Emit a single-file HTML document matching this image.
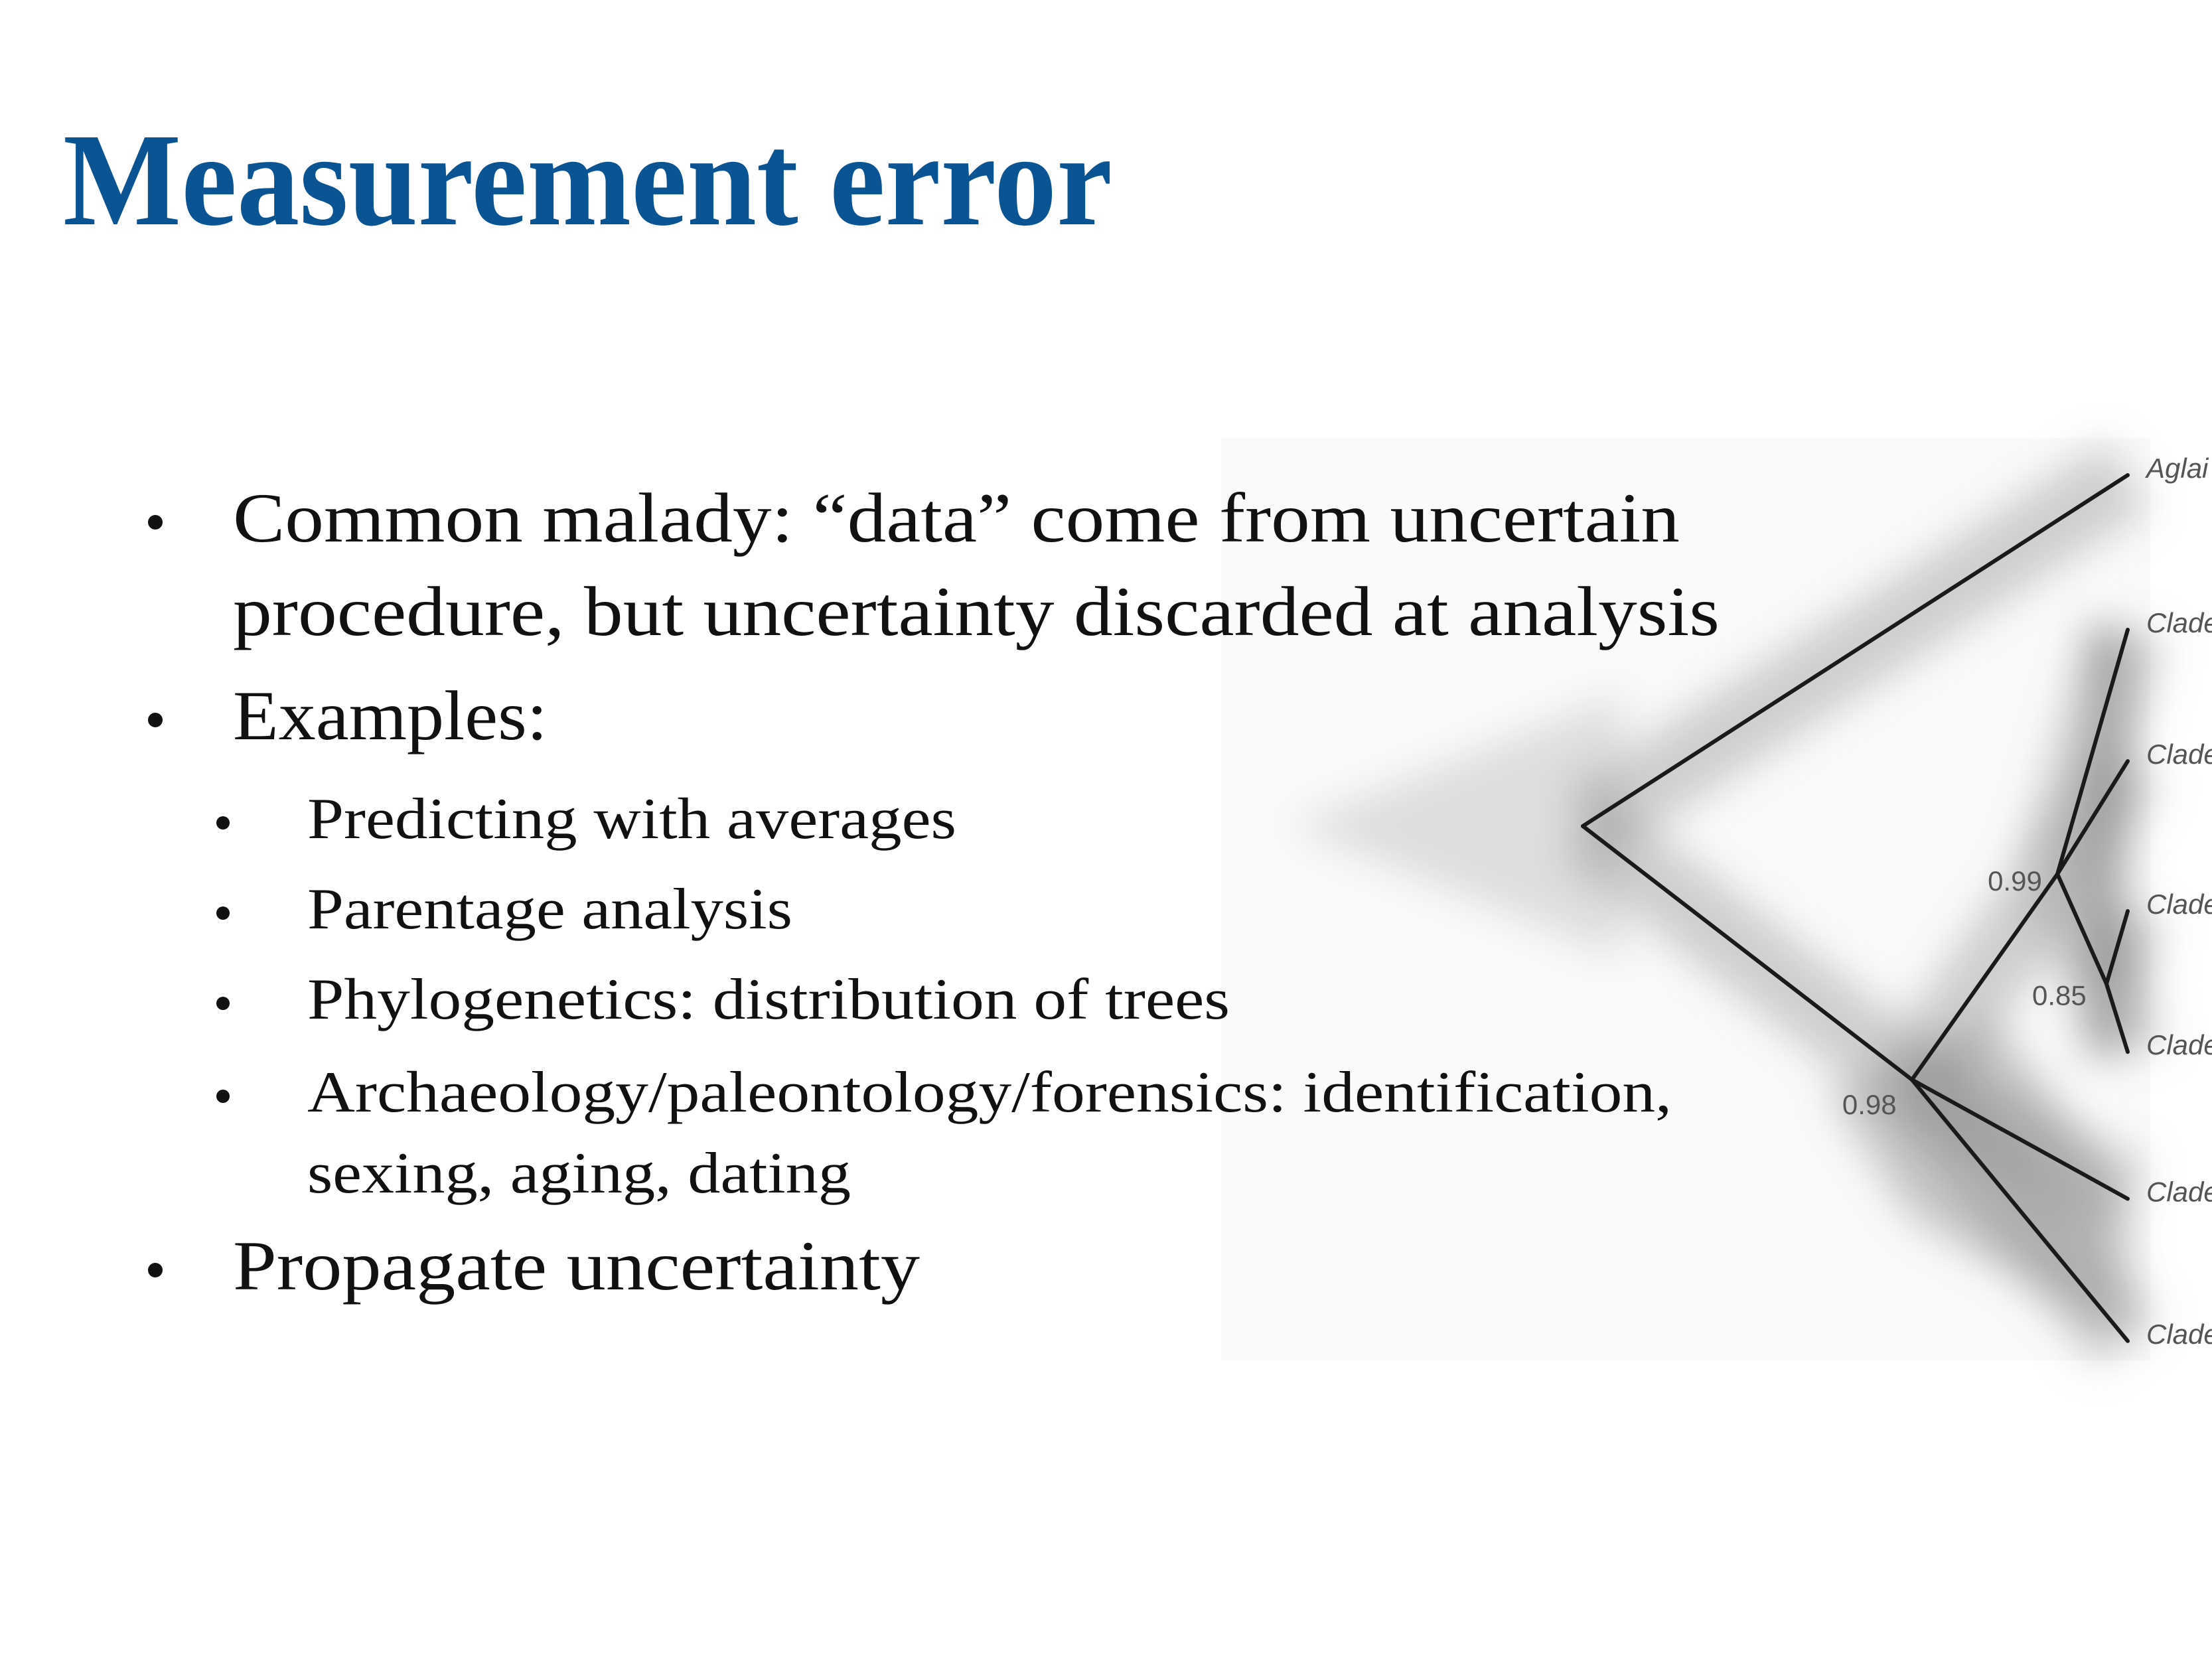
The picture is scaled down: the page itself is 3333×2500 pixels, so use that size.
<!DOCTYPE html>
<html><head><meta charset="utf-8"><style>
html,body{margin:0;padding:0;background:#fff;}
svg{display:block;}
</style></head><body>
<svg width="3333" height="2500" viewBox="0 0 3333 2500" xmlns="http://www.w3.org/2000/svg">
<defs>
<filter id="blur" x="-30%" y="-30%" width="160%" height="160%"><feGaussianBlur stdDeviation="30"/></filter>
</defs>
<g id="tree"></g>
<text x="95" y="338" font-family="Liberation Serif, serif" font-weight="bold" font-size="200" fill="#0a5494" textLength="1581" lengthAdjust="spacingAndGlyphs">Measurement error</text>
<g font-family="Liberation Serif, serif" fill="#111">
<circle cx="234" cy="787" r="11"/>
<text x="351" y="816" font-size="106" textLength="2180" lengthAdjust="spacingAndGlyphs">Common malady: “data” come from uncertain</text>
<text x="351" y="957" font-size="106" textLength="2240" lengthAdjust="spacingAndGlyphs">procedure, but uncertainty discarded at analysis</text>
<circle cx="234" cy="1085" r="11"/>
<text x="351" y="1114" font-size="106" textLength="474" lengthAdjust="spacingAndGlyphs">Examples:</text>
<circle cx="336" cy="1240" r="10"/>
<text x="463" y="1263" font-size="88" textLength="978" lengthAdjust="spacingAndGlyphs">Predicting with averages</text>
<circle cx="336" cy="1376" r="10"/>
<text x="463" y="1399" font-size="88" textLength="731" lengthAdjust="spacingAndGlyphs">Parentage analysis</text>
<circle cx="336" cy="1512" r="10"/>
<text x="463" y="1535" font-size="88" textLength="1390" lengthAdjust="spacingAndGlyphs">Phylogenetics: distribution of trees</text>
<circle cx="336" cy="1652" r="10"/>
<text x="463" y="1675" font-size="88" textLength="2056" lengthAdjust="spacingAndGlyphs">Archaeology/paleontology/forensics: identification,</text>
<text x="463" y="1797" font-size="88" textLength="819" lengthAdjust="spacingAndGlyphs">sexing, aging, dating</text>
<circle cx="234" cy="1914" r="11"/>
<text x="351" y="1943" font-size="106" textLength="1035" lengthAdjust="spacingAndGlyphs">Propagate uncertainty</text>
</g>
</svg>
<script>
const tipNames = ["Aglai", "Clade", "Clade", "Clade", "Clade", "Clade", "Clade"];
const tipPos = [0, 1.0, 1.85, 2.82, 3.73, 4.68, 5.6];
const nodeNames = ["root", "n098", "n099", "n085"];
const nodeDepth = [0, 0.604, 0.871, 0.961];
const nodePos = [2.27, 3.91, 2.58, 3.29];
const nodeSupport = ["", "0.98", "0.99", "0.85"];
const edgeParents = [0, 0, 1, 1, 1, 2, 2, 2, 3, 3];
const edgeChildren = ["t0", "n1", "t5", "t6", "n2", "t1", "t2", "n3", "t3", "t4"];

const X0 = 2385, X1 = 3206, Y0 = 716, YU = 233;
function x(d) { return X0 + d * (X1 - X0); }
function y(p) { return Y0 + p * YU; }
const NS = "http://www.w3.org/2000/svg";
const g = document.getElementById('tree');
function mk(tag, attrs) { const e = document.createElementNS(NS, tag); for (const k in attrs) e.setAttribute(k, attrs[k]); return e; }
function pt(c) { return c[0] === 't' ? [x(1), y(tipPos[+c.slice(1)])] : [x(nodeDepth[+c.slice(1)]), y(nodePos[+c.slice(1)])]; }

const bg = mk('rect', { x: 1840, y: 660, width: 1400, height: 1390, fill: '#fafafa' });


g.appendChild(bg);

const cloud = mk('g', { filter: 'url(#blur)' });


g.appendChild(cloud);
const rootPt = [x(nodeDepth[0]), y(nodePos[0])];
cloud.appendChild(mk('polygon', { points: `${rootPt[0]-440},${rootPt[1]} ${rootPt[0]+60},${rootPt[1]-200} ${rootPt[0]+60},${rootPt[1]+200}`, fill: '#d4d4d4', opacity: 0.75 }));
for (let i = 0; i < edgeParents.length; i++) {
  const p = [x(nodeDepth[edgeParents[i]]), y(nodePos[edgeParents[i]])];
  const c = pt(edgeChildren[i]);
  cloud.appendChild(mk('line', { x1: p[0], y1: p[1], x2: c[0], y2: c[1], stroke: '#9a9a9a', 'stroke-width': 120, opacity: 0.45 }));
}
cloud.appendChild(mk('rect', { x: x(0.93), y: y(1.0), width: x(1) - x(0.93), height: y(3.73) - y(1.0), fill: '#777', opacity: 0.5 }));
cloud.appendChild(mk('polygon', { points: `${x(0.45)},${y(4.0)} ${x(0.75)},${y(3.5)} ${x(1)},${y(4.68)} ${x(1)},${y(5.6)} ${x(0.6)},${y(4.8)}`, fill: '#888', opacity: 0.45 }));

for (let i = 0; i < edgeParents.length; i++) {
  const p = [x(nodeDepth[edgeParents[i]]), y(nodePos[edgeParents[i]])];
  const c = pt(edgeChildren[i]);
  const l = mk('line', { x1: p[0], y1: p[1], x2: c[0], y2: c[1], stroke: '#1a1a1a', 'stroke-width': 6, 'stroke-linecap': 'round' });
  
  
  g.appendChild(l);
}
const supDx = [0, -105, -105, -112];
const supDy = [0, 52, 25, 32];
for (let i = 0; i < nodeNames.length; i++) {
  if (!nodeSupport[i]) continue;
  const t = mk('text', { x: x(nodeDepth[i]) + supDx[i], y: y(nodePos[i]) + supDy[i], 'font-family': 'Liberation Sans, sans-serif', 'font-size': 42, fill: '#555' });
  t.textContent = nodeSupport[i];
  
  
  g.appendChild(t);
}
for (let i = 0; i < tipNames.length; i++) {
  const t = mk('text', { x: x(1) + 28, y: y(tipPos[i]) + 4, 'font-family': 'Liberation Sans, sans-serif', 'font-style': 'italic', 'font-size': 42, fill: '#555' });
  t.textContent = tipNames[i];
  
  
  g.appendChild(t);
}
</script>
</body></html>
